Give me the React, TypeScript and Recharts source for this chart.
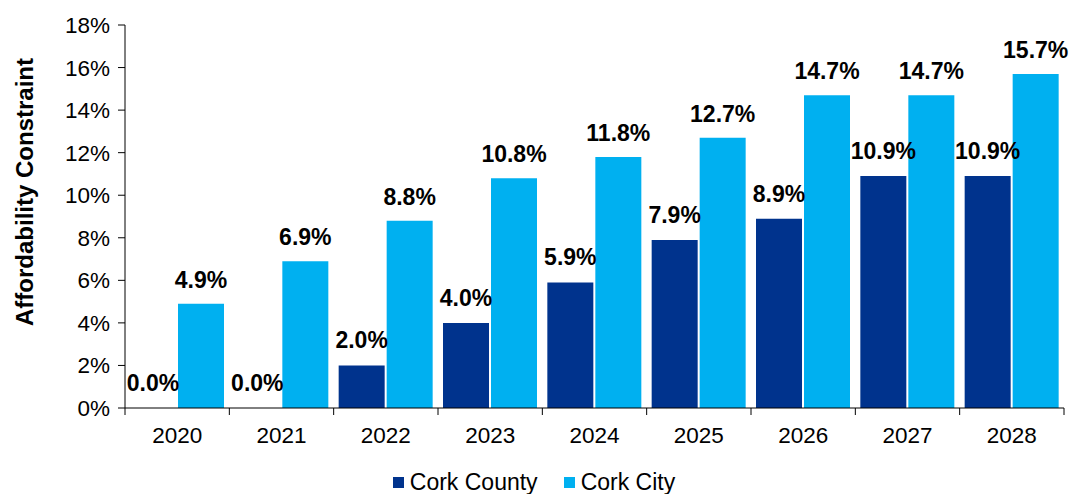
import { BarChart, Bar, XAxis, YAxis, Legend, LabelList } from "recharts";

const years = ["2020", "2021", "2022", "2023", "2024", "2025", "2026", "2027", "2028"];
const corkCounty = [0.0, 0.0, 2.0, 4.0, 5.9, 7.9, 8.9, 10.9, 10.9];
const corkCity = [4.9, 6.9, 8.8, 10.8, 11.8, 12.7, 14.7, 14.7, 15.7];
const yTicks = [0, 2, 4, 6, 8, 10, 12, 14, 16, 18];

const COUNTY_COLOR = "#00338D";
const CITY_COLOR = "#00B0F0";
const FONT = "'Liberation Sans', Arial, sans-serif";

const data = years.map((year, i) => ({
  year,
  county: corkCounty[i],
  city: corkCity[i],
}));

// x-axis tick: year label at the band centre, tick line at the band's left edge
function YearTick(props: any) {
  const { x, y, payload, index } = props;
  const half = payload?.offset ?? 0;
  const isLast = index === years.length - 1;
  const axisY = y - 8;
  return (
    <g>
      <line x1={x - half} x2={x - half} y1={axisY} y2={axisY + 7} stroke="#000" />
      {isLast && (
        <line x1={x + half} x2={x + half} y1={axisY} y2={axisY + 7} stroke="#000" />
      )}
      <text
        x={x}
        y={axisY + 35}
        textAnchor="middle"
        fontSize={22.5}
        fontFamily={FONT}
        fill="#000"
      >
        {payload.value}
      </text>
    </g>
  );
}

function LegendContent() {
  const items = [
    { label: "Cork County", color: COUNTY_COLOR },
    { label: "Cork City", color: CITY_COLOR },
  ];
  return (
    <div
      style={{
        height: 36,
        display: "flex",
        justifyContent: "center",
        alignItems: "flex-end",
        gap: 26,
        fontFamily: FONT,
        fontSize: 23,
        color: "#000",
        paddingLeft: 4,
        boxSizing: "border-box",
      }}
    >
      {items.map((it) => (
        <div key={it.label} style={{ display: "flex", alignItems: "center", lineHeight: "24px" }}>
          <span
            style={{
              display: "inline-block",
              width: 11,
              height: 11,
              background: it.color,
              marginRight: 6,
            }}
          />
          {it.label}
        </div>
      ))}
    </div>
  );
}

const pct = (v: any) => `${Number(v).toFixed(1)}%`;

const labelStyle = {
  fill: "#000",
  fontSize: 23,
  fontWeight: "bold" as const,
  fontFamily: FONT,
};

export default function App() {
  return (
    <div style={{ width: 1070, height: 494, background: "#fff" }}>
      <style>{`body{margin:0}`}</style>
      <BarChart
        width={1070}
        height={494}
        data={data}
        margin={{ top: 25, right: 6, bottom: 0, left: 0 }}
        barCategoryGap={5}
        barGap={2}
      >
        <XAxis
          dataKey="year"
          axisLine={{ stroke: "#000" }}
          tickLine={false}
          tick={<YearTick />}
          height={50}
          interval={0}
        />
        <YAxis
          width={125}
          domain={[0, 18]}
          ticks={yTicks}
          tickFormatter={(v) => `${v}%`}
          axisLine={{ stroke: "#000" }}
          tickLine={{ stroke: "#000" }}
          tickSize={7}
          tickMargin={8}
          tick={{ fontSize: 22.5, fontFamily: FONT, fill: "#000" }}
          label={{
            content: () => (
              <text
                x={24}
                y={192}
                transform="rotate(-90, 24, 192)"
                textAnchor="middle"
                dominantBaseline="central"
                fontSize={24}
                fontWeight="bold"
                fontFamily={FONT}
                fill="#000"
              >
                Affordability Constraint
              </text>
            ),
          }}
        />
        <Legend verticalAlign="bottom" content={<LegendContent />} />
        <Bar
          dataKey="county"
          name="Cork County"
          fill={COUNTY_COLOR}
          minPointSize={0.01}
          isAnimationActive={false}
        >
          <LabelList dataKey="county" position="top" offset={17} formatter={pct} {...labelStyle} />
        </Bar>
        <Bar dataKey="city" name="Cork City" fill={CITY_COLOR} isAnimationActive={false}>
          <LabelList dataKey="city" position="top" offset={16} formatter={pct} {...labelStyle} />
        </Bar>
      </BarChart>
    </div>
  );
}
